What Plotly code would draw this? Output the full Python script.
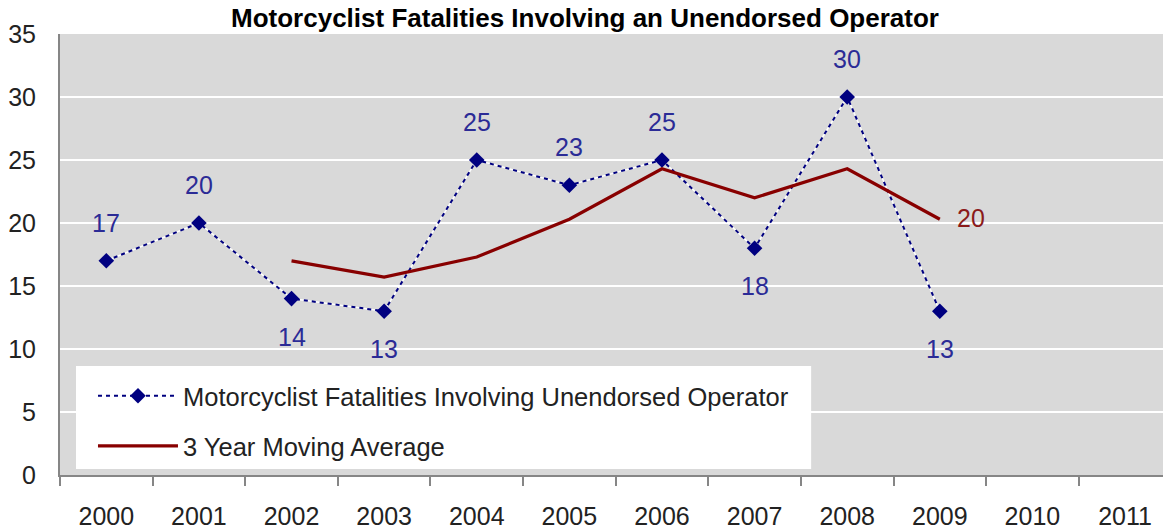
import plotly.graph_objects as go

years = ["2000", "2001", "2002", "2003", "2004", "2005", "2006", "2007", "2008", "2009", "2010", "2011"]
fatal_years = ["2000", "2001", "2002", "2003", "2004", "2005", "2006", "2007", "2008", "2009"]
fatalities = [17, 20, 14, 13, 25, 23, 25, 18, 30, 13]
label_side = [1, 1, -1, -1, 1, 1, 1, -1, 1, -1]  # +1 above, -1 below
avg_years = ["2002", "2003", "2004", "2005", "2006", "2007", "2008", "2009"]
moving_avg = [17.0, 15.7, 17.3, 20.3, 24.3, 22.0, 24.3, 20.3]

NAVY = "#000080"
LABEL_BLUE = "#2B2B96"
DARKRED = "#880000"
FONT = "Liberation Sans"

fig = go.Figure()

# white under-line so the dash gaps look white like the original
fig.add_trace(go.Scatter(x=fatal_years, y=fatalities, mode="lines",
                         line=dict(color="white", width=1.5),
                         showlegend=False, hoverinfo="skip"))
fig.add_trace(go.Scatter(x=fatal_years, y=fatalities, mode="lines+markers",
                         name="Motorcyclist Fatalities Involving Unendorsed Operator",
                         legendgroup="a",
                         line=dict(color=NAVY, width=2, dash="4px,4px"),
                         marker=dict(symbol="diamond", size=12, color=NAVY)))
fig.add_trace(go.Scatter(x=avg_years, y=moving_avg, mode="lines",
                         name="3 Year Moving Average",
                         legendgroup="b",
                         line=dict(color=DARKRED, width=3.2)))

# category positions (index on the category axis)
for x, y, s in zip(fatal_years, fatalities, label_side):
    fig.add_annotation(x=years.index(x), y=y, xref="x", yref="y", text=str(y),
                       showarrow=False, yshift=38 * s,
                       font=dict(family=FONT, size=25, color=LABEL_BLUE))

fig.add_annotation(x=years.index(avg_years[-1]), y=moving_avg[-1], xref="x", yref="y",
                   text=str(round(moving_avg[-1])),
                   showarrow=False, xshift=31, yshift=1,
                   font=dict(family=FONT, size=25, color="#8B1A1A"))

# white legend box (legend itself is transparent and sits inside it)
fig.add_shape(type="rect", xref="paper", yref="paper",
              x0=0.0145, x1=0.681, y0=0.0136, y1=0.247,
              fillcolor="white", line=dict(width=0), layer="above")

fig.update_layout(
    width=1163, height=529,
    margin=dict(l=60, r=0, t=34, b=54),
    paper_bgcolor="white",
    plot_bgcolor="#D9D9D9",
    title=dict(text="<b>Motorcyclist Fatalities Involving an Unendorsed Operator</b>",
               x=0.503, xanchor="center", y=0.9654, yanchor="middle",
               font=dict(family=FONT, size=26, color="black")),
    font=dict(family=FONT, size=25, color="#222"),
    showlegend=True,
    legend=dict(x=0.0299, y=0.232, xanchor="left", yanchor="top",
                bgcolor="rgba(0,0,0,0)", borderwidth=0,
                font=dict(family=FONT, size=25.5, color="#222"),
                tracegroupgap=14, itemwidth=80),
    xaxis=dict(type="category", categoryorder="array", categoryarray=years,
               range=[-0.5, 11.41], tickson="boundaries",
               ticks="outside", ticklen=9, tickwidth=2, tickcolor="#868686",
               showline=True, linecolor="#868686", linewidth=2,
               showgrid=False, ticklabelstandoff=18,
               tickfont=dict(family=FONT, size=25, color="#222")),
    yaxis=dict(range=[0, 35], dtick=5, showgrid=True, gridcolor="white", gridwidth=2,
               showline=True, linecolor="#868686", linewidth=2,
               ticks="", ticklabelstandoff=17, zeroline=False,
               tickfont=dict(family=FONT, size=25, color="#222")),
)

fig.write_html("out.html", config={"displayModeBar": False},
               post_script="document.body.style.margin='0px';")
